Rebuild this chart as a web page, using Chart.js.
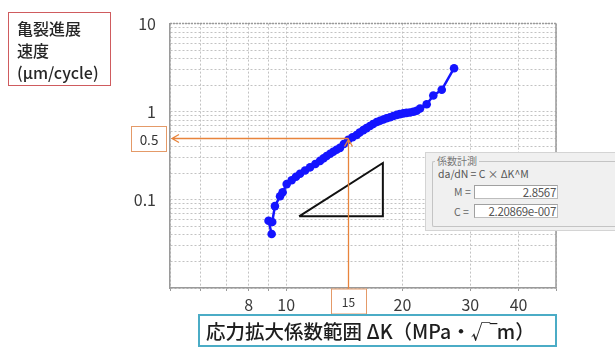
<!DOCTYPE html>
<html>
<head>
<meta charset="utf-8">
<script src="https://cdn.jsdelivr.net/npm/chart.js@4.4.1/dist/chart.umd.min.js"></script>
<style>
  html, body { margin: 0; padding: 0; background: #fff; overflow: hidden; }
  #wrap { position: relative; width: 615px; height: 349px; overflow: hidden; font-family: "Noto Sans CJK JP", sans-serif; }
  #chart { position: absolute; left: 0; top: 0; }
  .ybox { position: absolute; left: 8px; top: 12px; width: 103px; height: 74px; box-sizing: border-box;
          border: 1.5px solid #cf5b5e; padding: 4px 0 0 8px; font-size: 16px; line-height: 22px; color: #262626; font-weight: 500; }
  .xbox { position: absolute; left: 198px; top: 314px; width: 359px; height: 33px; box-sizing: border-box;
          border: 2px solid #4bacc6; padding: 0 0 0 6px; font-size: 19.5px; line-height: 29px; color: #1e1e1e; white-space: nowrap; font-weight: 500; }
  .dlg { position: absolute; left: 425px; top: 152px; width: 190px; height: 77px; background: #f0f0f0; overflow: hidden;
         border-top: 1px solid #d4d4d4; border-left: 1px solid #d4d4d4; border-bottom: 1px solid #d4d4d4; color: #555; font-size: 10px; }
  .grp { position: absolute; left: 6px; top: 8px; width: 240px; height: 66px; box-sizing: border-box;
         border: 1px solid #c4c4c4; border-right: none; border-radius: 2px 0 0 2px; }
  .grp-title { position: absolute; left: 9px; top: 1px; background: #f0f0f0; padding: 0 2px; font-size: 10px; color: #777; line-height: 14px; }
  .eq { position: absolute; left: 12px; top: 14px; font-size: 10.5px; line-height: 14px; color: #555; }
  .lbl { position: absolute; left: 28px; font-size: 10.5px; line-height: 14px; color: #666; }
  .fld { position: absolute; left: 48px; width: 84px; height: 14px; background: #fff; box-sizing: border-box;
         border: 1px solid #bdbdbd; border-top-color: #a0a0a0; border-left-color: #a0a0a0;
         text-align: right; font-size: 11.5px; line-height: 13px; color: #555; padding-right: 1px; letter-spacing: -0.3px; }
</style>
</head>
<body>
<div id="wrap">
  <canvas id="chart" width="615" height="349"></canvas>
  <div class="ybox">亀裂進展<br>速度<br>(µm/cycle)</div>
  <div class="xbox">応力拡大係数範囲 ΔK（MPa・√‾m）</div>
  <div class="dlg">
    <div class="grp"></div>
    <div class="grp-title">係数計測</div>
    <div class="eq">da/dN = C × ΔK^M</div>
    <div class="lbl" style="top:32px">M =</div>
    <div class="fld" style="top:32px">2.8567</div>
    <div class="lbl" style="top:52px">C =</div>
    <div class="fld" style="top:51px">2.20869e-007</div>
  </div>
</div>
<script>
// crack growth data: ΔK (MPa√m) vs da/dN (µm/cycle)
const deltaK = [9.17, 9.0, 9.2, 9.35, 9.64, 9.79, 10.03, 10.33, 10.6, 10.86, 11.19, 11.53, 11.9, 12.24,
  12.5, 12.73, 13.0, 13.24, 13.5, 13.78, 14.1, 14.48, 14.85, 15.22, 15.5, 15.84, 16.15, 16.48, 16.8,
  17.16, 17.5, 17.85, 18.2, 18.58, 18.95, 19.33, 19.7, 20.11, 20.5, 20.93, 21.35, 21.78, 22.22, 23.12,
  24.05, 25.29, 27.22];
const growthRate = [0.041, 0.058, 0.056, 0.085, 0.110, 0.122, 0.151, 0.167, 0.183, 0.198, 0.215, 0.234,
  0.255, 0.277, 0.296, 0.315, 0.333, 0.352, 0.370, 0.389, 0.430, 0.480, 0.513, 0.545, 0.580, 0.618,
  0.652, 0.690, 0.727, 0.764, 0.790, 0.817, 0.842, 0.866, 0.893, 0.920, 0.940, 0.958, 0.970, 0.982,
  1.000, 1.026, 1.090, 1.215, 1.526, 1.775, 3.12];

// slope triangle
const triangleX = [10.8, 17.8, 17.8, 10.8];
const triangleY = [0.065, 0.262, 0.065, 0.065];

// axes
const xMin = 5, xMax = 50;
const yMin = 0.01, yMax = 10;
const xGridValues = [5, 6, 7, 8, 9, 10, 20, 30, 40, 50];
const xTickLabels = [8, 10, 20, 30, 40];
const yTickLabels = [10, 1, 0.1];

// reading marked on the chart
const readX = 14.5, readY = 0.5;
const readXLabel = '15', readYLabel = '0.5';

const yGridValues = [];
[0.01, 0.1, 1].forEach(d => {
  for (let k = 1; k <= 9; k++) yGridValues.push(+(k * d).toPrecision(3));
});
yGridValues.push(10);

const orange = '#e8843c';

const notesPlugin = {
  id: 'notes',
  afterDatasetsDraw(chart) {
    const { ctx, chartArea: a, scales: { x, y } } = chart;
    ctx.save();
    // top and right frame
    ctx.strokeStyle = '#9a9a9a';
    ctx.lineWidth = 1.5;
    ctx.beginPath();
    ctx.moveTo(a.right, a.top);
    ctx.lineTo(a.right, a.bottom);
    ctx.stroke();
    ctx.setLineDash([2, 1]);
    ctx.beginPath();
    ctx.moveTo(a.left, a.top);
    ctx.lineTo(a.right, a.top);
    ctx.stroke();
    ctx.setLineDash([]);

    const px = Math.round(x.getPixelForValue(readX)) + 0.5;
    const py = Math.round(y.getPixelForValue(readY)) + 0.5;
    ctx.strokeStyle = orange;
    ctx.lineWidth = 1.3;
    ctx.beginPath();
    ctx.moveTo(px, py);
    ctx.lineTo(a.left + 2, py);
    ctx.moveTo(a.left + 9, py - 4);
    ctx.lineTo(a.left + 2, py);
    ctx.lineTo(a.left + 9, py + 4);
    ctx.moveTo(px, a.bottom + 1);
    ctx.lineTo(px, py + 1);
    ctx.moveTo(px - 4, py + 8);
    ctx.lineTo(px, py + 1);
    ctx.lineTo(px + 4, py + 8);
    ctx.stroke();

    // value boxes
    ctx.strokeStyle = '#e49a68';
    ctx.lineWidth = 1;
    ctx.fillStyle = '#333';
    ctx.textAlign = 'center';
    ctx.textBaseline = 'middle';
    ctx.strokeRect(px - 17, a.bottom + 1, 35, 25);
    ctx.font = '12px "Noto Sans CJK JP"';
    ctx.fillText(readXLabel, px, a.bottom + 14);
    ctx.strokeRect(131.5, py - 12, 35, 25);
    ctx.font = '13.5px "Noto Sans CJK JP"';
    ctx.fillText(readYLabel, 149, py + 1);
    ctx.restore();
  }
};

new Chart(document.getElementById('chart'), {
  type: 'scatter',
  data: {
    datasets: [
      {
        label: 'da/dN',
        data: deltaK.map((k, i) => ({ x: k, y: growthRate[i] })),
        showLine: true,
        borderColor: '#1414ff',
        backgroundColor: '#1414ff',
        borderWidth: 2.5,
        pointRadius: 4.3,
        pointBorderWidth: 0,
        order: 1
      },
      {
        label: 'slope',
        data: triangleX.map((k, i) => ({ x: k, y: triangleY[i] })),
        showLine: true,
        borderColor: '#111',
        borderWidth: 2,
        pointRadius: 0,
        order: 2
      }
    ]
  },
  plugins: [notesPlugin],
  options: {
    responsive: false,
    animation: false,
    layout: { padding: { left: 0, top: 15, right: 59, bottom: 0 } },
    plugins: { legend: { display: false }, tooltip: { enabled: false } },
    scales: {
      x: {
        type: 'logarithmic',
        min: xMin,
        max: xMax,
        afterBuildTicks: (scale) => { scale.ticks = xGridValues.map(v => ({ value: v })); },
        afterFit: (scale) => { scale.height = 61; },
        grid: { color: '#c2c2c2', tickColor: '#9a9a9a', tickLength: 3 },
        border: { color: '#9a9a9a', width: 1.5, dash: [2, 2] },
        ticks: {
          autoSkip: false,
          maxRotation: 0,
          padding: 4,
          color: '#3a3a3a',
          font: { family: '"Noto Sans CJK JP"', size: 16 },
          callback: (v) => xTickLabels.includes(v) ? String(v) : ''
        }
      },
      y: {
        type: 'logarithmic',
        min: yMin,
        max: yMax,
        afterBuildTicks: (scale) => { scale.ticks = yGridValues.map(v => ({ value: v })); },
        afterFit: (scale) => { scale.width = 170; },
        grid: { color: '#c2c2c2', drawTicks: false },
        border: { color: '#9a9a9a', width: 1.5, dash: [2, 2] },
        ticks: {
          autoSkip: false,
          padding: 14,
          color: '#3a3a3a',
          font: { family: '"Noto Sans CJK JP"', size: 16 },
          callback: (v) => yTickLabels.includes(v) ? String(v) : ''
        }
      }
    }
  }
});
</script>
</body>
</html>
